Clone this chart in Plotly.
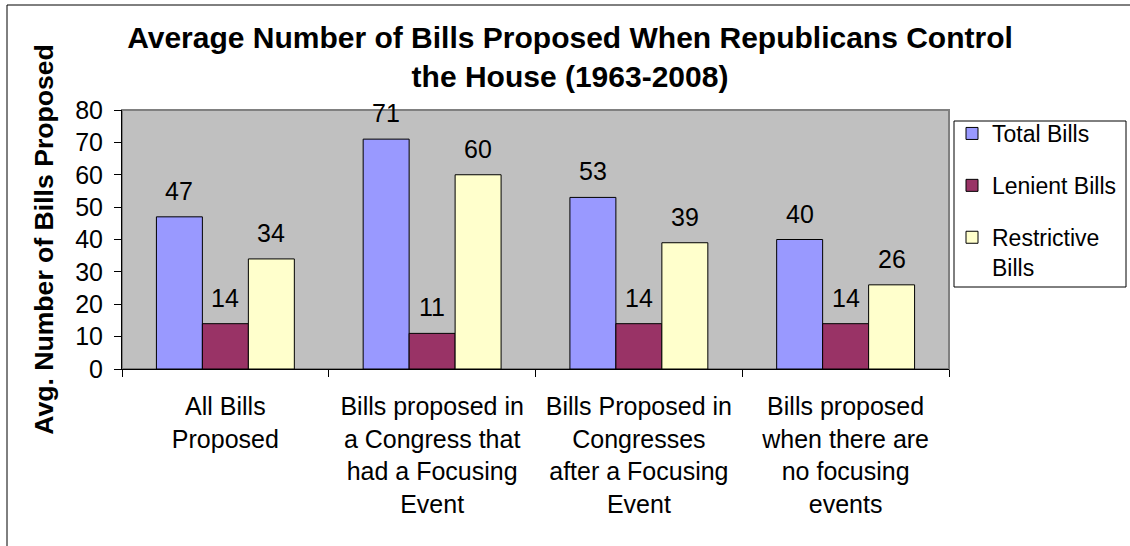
import plotly.graph_objects as go

categories = [
    "All Bills<br>Proposed",
    "Bills proposed in<br>a Congress that<br>had a Focusing<br>Event",
    "Bills Proposed in<br>Congresses<br>after a Focusing<br>Event",
    "Bills proposed<br>when there are<br>no focusing<br>events",
]
series_names = ["Total Bills", "Lenient Bills", "Restrictive<br>Bills"]
total_bills = [47, 71, 53, 40]
lenient_bills = [14, 11, 14, 14]
restrictive_bills = [34, 60, 39, 26]
colors = ["#9999FF", "#993366", "#FFFFCC"]
y_ticks = [0, 10, 20, 30, 40, 50, 60, 70, 80]

W, H = 1130, 546
ML, MR, MT, MB = 122, 181, 110, 177
BARGAP = 0.333
FONT = "Liberation Sans, Arial, sans-serif"

series_values = [total_bills, lenient_bills, restrictive_bills]
plot_w = W - ML - MR
plot_h = H - MT - MB


def px_x(px):
    return (px - ML) / plot_w


def px_y(py):
    return (H - MB - py) / plot_h


fig = go.Figure()
for i, (name, vals, col) in enumerate(zip(series_names, series_values, colors)):
    fig.add_trace(go.Bar(
        x=categories, y=vals, name=name, legendgroup=f"g{i}",
        marker=dict(color=col, line=dict(color="black", width=1)),
    ))

# data labels above bars
bar_w = plot_w / len(categories) * (1 - BARGAP) / len(series_values)
for i, vals in enumerate(series_values):
    off = (i - (len(series_values) - 1) / 2) * bar_w
    for c, v in zip(categories, vals):
        fig.add_annotation(x=c, y=v, text=str(v), showarrow=False,
                           xshift=off, yshift=26, yanchor="middle",
                           font=dict(size=25, color="black", family=FONT))

# plot area border (gray)
fig.add_shape(type="rect", xref="paper", yref="paper", x0=0, x1=1, y0=0, y1=1,
              line=dict(color="#808080", width=2), layer="below")
# legend box
fig.add_shape(type="rect", xref="paper", yref="paper",
              x0=px_x(954), x1=px_x(1126), y0=px_y(287), y1=px_y(121),
              line=dict(color="black", width=1), fillcolor="white", layer="below")
# outer chart border
fig.add_shape(type="rect", xref="paper", yref="paper",
              x0=px_x(7), x1=px_x(W + 20), y0=px_y(H + 20), y1=px_y(5),
              line=dict(color="black", width=1))

fig.update_layout(
    width=W, height=H,
    margin=dict(l=ML, r=MR, t=MT, b=MB, autoexpand=False),
    paper_bgcolor="white", plot_bgcolor="#C0C0C0",
    barmode="group", bargap=BARGAP, bargroupgap=0,
    font=dict(family=FONT, color="black", size=25),
    title=dict(
        text="<b>Average Number of Bills Proposed When Republicans Control<br>the House (1963-2008)</b>",
        x=570 / W, xref="container", xanchor="center",
        y=0.913, yref="container", yanchor="top",
        font=dict(size=30, family=FONT, color="black"),
    ),
    legend=dict(
        x=px_x(952), xanchor="left",
        y=px_y(112), yanchor="top",
        bgcolor="rgba(0,0,0,0)", borderwidth=0,
        font=dict(size=23, family=FONT, color="black"),
        tracegroupgap=19, valign="top",
    ),
    showlegend=True,
)
fig.update_xaxes(
    type="category", showline=True, linecolor="black", linewidth=1,
    ticks="outside", tickson="boundaries", ticklen=7, tickcolor="black",
    showgrid=False, tickfont=dict(size=25), ticklabelstandoff=15,
)
fig.update_yaxes(
    range=[0, 80], tickvals=y_ticks, ticktext=[str(t) for t in y_ticks],
    showline=True, linecolor="black", linewidth=1,
    ticks="outside", ticklen=7, tickcolor="black",
    showgrid=False, zeroline=False, tickfont=dict(size=25), ticklabelstandoff=6,
    title=dict(text="<b>Avg. Number of Bills Proposed</b>", font=dict(size=26.6), standoff=13),
)

fig.write_html(
    "out.html",
    config={"displayModeBar": False},
    post_script="document.body.style.margin='0';document.body.style.overflow='hidden';",
)
